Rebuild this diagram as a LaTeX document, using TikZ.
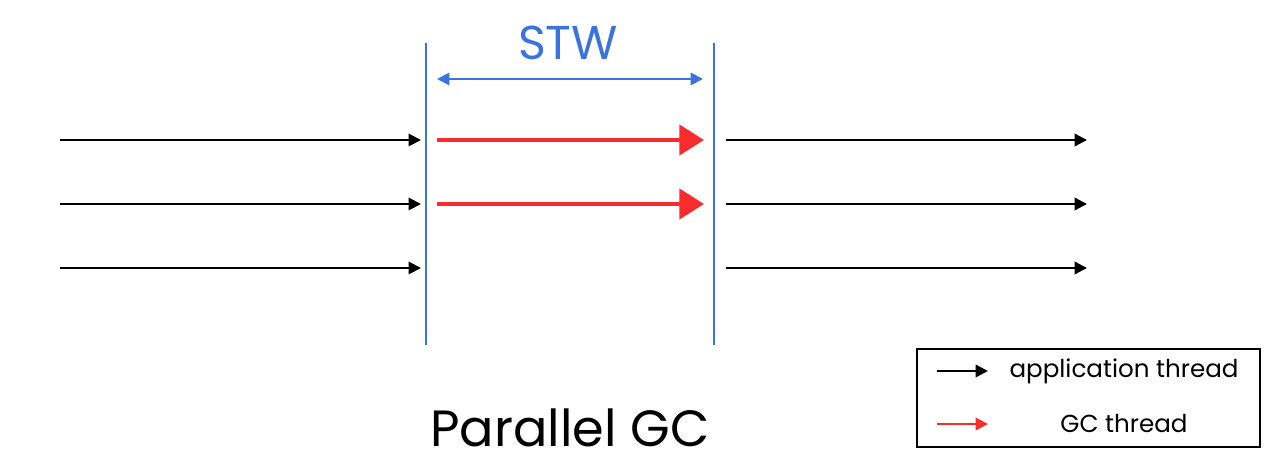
\documentclass[tikz,border=0pt]{standalone}
\usepackage{fontspec}
\setmainfont{Poppins}
\usetikzlibrary{arrows.meta}
\definecolor{stwblue}{RGB}{58,114,224}
\definecolor{gcred}{RGB}{247,45,45}
\tikzset{
  app/.style={black,line width=1.2pt,-{Triangle[length=7pt,width=7pt]}},
  gc/.style={gcred,line width=2.6pt,-{Triangle[length=14pt,width=17pt]}},
  stw/.style={stwblue,line width=1.2pt}
}
\begin{document}
\begin{tikzpicture}[x=0.02cm,y=-0.02cm]
	  \useasboundingbox (0,0) rectangle (1280,465);
	  % pause borders
	  \coordinate (s1) at (426,43);
	  \coordinate (e1) at (426,345);
	  \coordinate (s2) at (714,43);
	  \coordinate (e2) at (714,345);
	  \draw[stw] (s1) -- (e1);
	  \draw[stw] (s2) -- (e2);
	  \coordinate (w1) at (437,79);
	  \coordinate (w2) at (703,79);
	  \draw[stw,{Triangle[length=7pt,width=7pt]}-{Triangle[length=7pt,width=7pt]}] (w1) -- (w2);
	  \node[stwblue,font=\fontsize{27}{31}\selectfont] (stwlabel) at (568,43) {STW};
	  % threads
	  \foreach \y/\n in {140/1,204/2,268/3} {
	    \coordinate (a\n) at (60,\y);
	    \coordinate (b\n) at (421,\y);
	    \coordinate (c\n) at (726,\y);
	    \coordinate (d\n) at (1087,\y);
	    \draw[app] (a\n) -- (b\n);
	    \draw[app] (c\n) -- (d\n);
	  }
	  \foreach \y/\n in {140/1,204/2} {
	    \coordinate (g\n) at (437,\y);
	    \coordinate (h\n) at (704,\y);
	    \draw[gc] (g\n) -- (h\n);
	  }
	  % legend
	  \draw[line width=1.4pt] (917,349) rectangle (1260,447);
	  \coordinate (la1) at (937,371);
	  \coordinate (la2) at (988,371);
	  \coordinate (lg1) at (937,424);
	  \coordinate (lg2) at (988,424);
	  \draw[app] (la1) -- (la2);
	  \draw[gcred,line width=1.2pt,-{Triangle[length=7pt,width=7pt]}] (lg1) -- (lg2);
	  \node[font=\fontsize{14}{17}\selectfont] (lapp) at (1124,371) {application thread};
	  \node[font=\fontsize{14}{17}\selectfont] (lgc) at (1124,424) {GC thread};
	  \node[font=\fontsize{29}{34}\selectfont] (title) at (570,428) {Parallel GC};
\end{tikzpicture}
\end{document}
